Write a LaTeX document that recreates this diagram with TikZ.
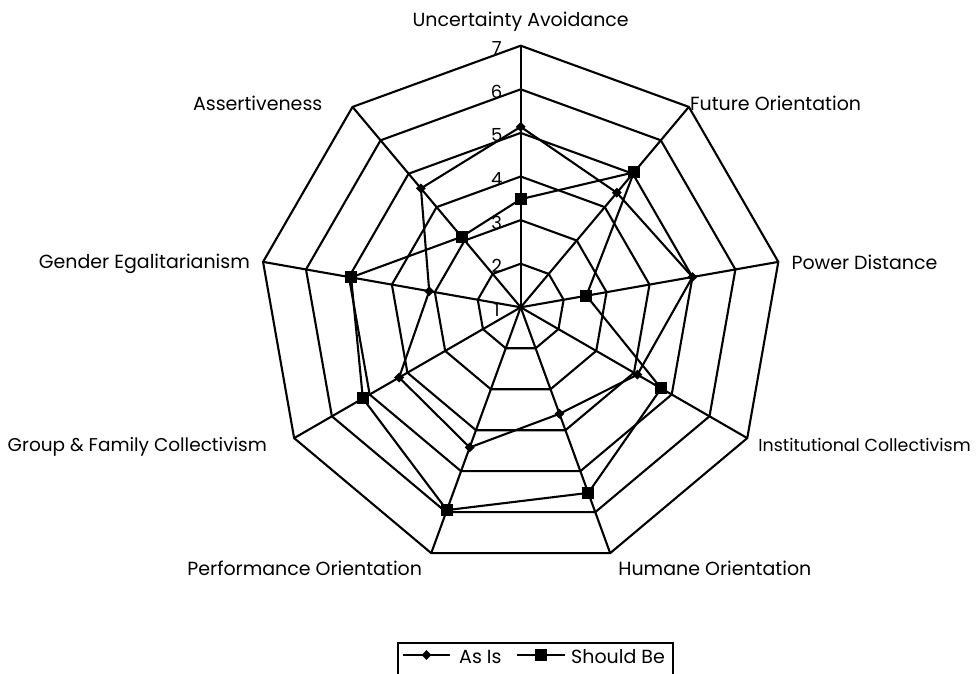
\documentclass[tikz,border=0pt]{standalone}
\usepackage{fontspec}
\setmainfont{Poppins}
\usepackage{tikz}
\usetikzlibrary{positioning, shapes.geometric, calc}

\begin{document}
\begin{tikzpicture}[
  x=1pt, y=1pt,
  gridline/.style={line width=2.1pt, line join=miter},
  series/.style={line width=2.1pt, line join=round},
  axislabel/.style={font=\fontsize{19}{22}\selectfont, inner sep=0pt},
  scalelabel/.style={font=\fontsize{18}{21}\selectfont, inner sep=0pt},
  diamark/.style={diamond, fill=black, inner sep=0pt, minimum size=10pt},
  sqmark/.style={rectangle, fill=black, inner sep=0pt, minimum size=12pt},
  node distance=10pt
]
\def\unit{43.6}
\useasboundingbox (-520.7,-365.7) rectangle (459.3,307.3);

% rings 2..7
\foreach \v in {2,...,7}
  \draw[gridline] (90:{(\v-1)*\unit})
    \foreach \k in {1,...,8} { -- ({90-40*\k}:{(\v-1)*\unit}) } -- cycle;

% spokes
\coordinate (c) at (0,0);
\foreach \k in {0,...,8}
  \coordinate (ax\k) at ({90-40*\k}:{6*\unit});
\foreach \k in {0,...,8}
  \draw[gridline] (c) -- (ax\k);

% scale numbers
\foreach \v in {1,...,7}
  \node[scalelabel] (n\v) at (-24,{(\v-1)*\unit-2.5}) {\v};

% axis labels
\node[axislabel, above=24pt of ax0, anchor=center] (ua) {Uncertainty Avoidance};
\node[axislabel, right=1pt of ax1, yshift=4pt] (fo) {Future Orientation};
\node[axislabel, right=13pt of ax2] (pd) {Power Distance};
\node[axislabel, right=11pt of ax3, yshift=-7pt, font=\fontsize{17.4}{21}\selectfont] (ic) {Institutional Collectivism};
\node[axislabel, right=8pt of ax4, yshift=-15pt] (ho) {Humane Orientation};
\node[axislabel, left=9pt of ax5, yshift=-15pt] (po) {Performance Orientation};
\node[axislabel, left=27pt of ax6, yshift=-9pt, font=\fontsize{18.5}{22}\selectfont] (gf) {Group \& Family Collectivism};
\node[axislabel, left=13pt of ax7, yshift=-2pt] (ge) {Gender Egalitarianism};
\node[axislabel, left=30pt of ax8, yshift=4pt] (as) {Assertiveness};

% As Is
\foreach \val [count=\k from 0] in {5.14,4.43,5.0,4.09,3.6,4.42,4.22,3.13,4.56}
  \coordinate (a\k) at ({90-40*\k}:{(\val-1)*\unit});
\draw[series] (a0) -- (a1) -- (a2) -- (a3) -- (a4) -- (a5) -- (a6) -- (a7) -- (a8) -- cycle;
\foreach \k in {0,...,8}
  \node[diamark] at (a\k) {};

% Should Be
\foreach \val [count=\k from 0] in {3.48,5.04,2.53,4.72,5.53,5.95,5.18,4.95,3.11}
  \coordinate (s\k) at ({90-40*\k}:{(\val-1)*\unit});
\draw[series] (s0) -- (s1) -- (s2) -- (s3) -- (s4) -- (s5) -- (s6) -- (s7) -- (s8) -- cycle;
\foreach \k in {0,...,8}
  \node[sqmark] at (s\k) {};

% legend
\draw[line width=1.8pt] (-122.7,-374) rectangle (152.3,-335.7);
\coordinate (la) at (-117.7,-347.7);
\coordinate (lb) at (-70.7,-347.7);
\coordinate (lc) at (-3.7,-347.7);
\coordinate (ld) at (44.3,-347.7);
\draw[line width=1.8pt] (la) -- (lb);
\node[diamark] at ($(la)!0.5!(lb)$) {};
\node[axislabel, right=9pt of lb, yshift=-2pt] (l1) {As Is};
\draw[line width=1.8pt] (lc) -- (ld);
\node[sqmark] at ($(lc)!0.5!(ld)$) {};
\node[axislabel, right=6pt of ld, yshift=-2pt] (l2) {Should Be};

\end{tikzpicture}
\end{document}
